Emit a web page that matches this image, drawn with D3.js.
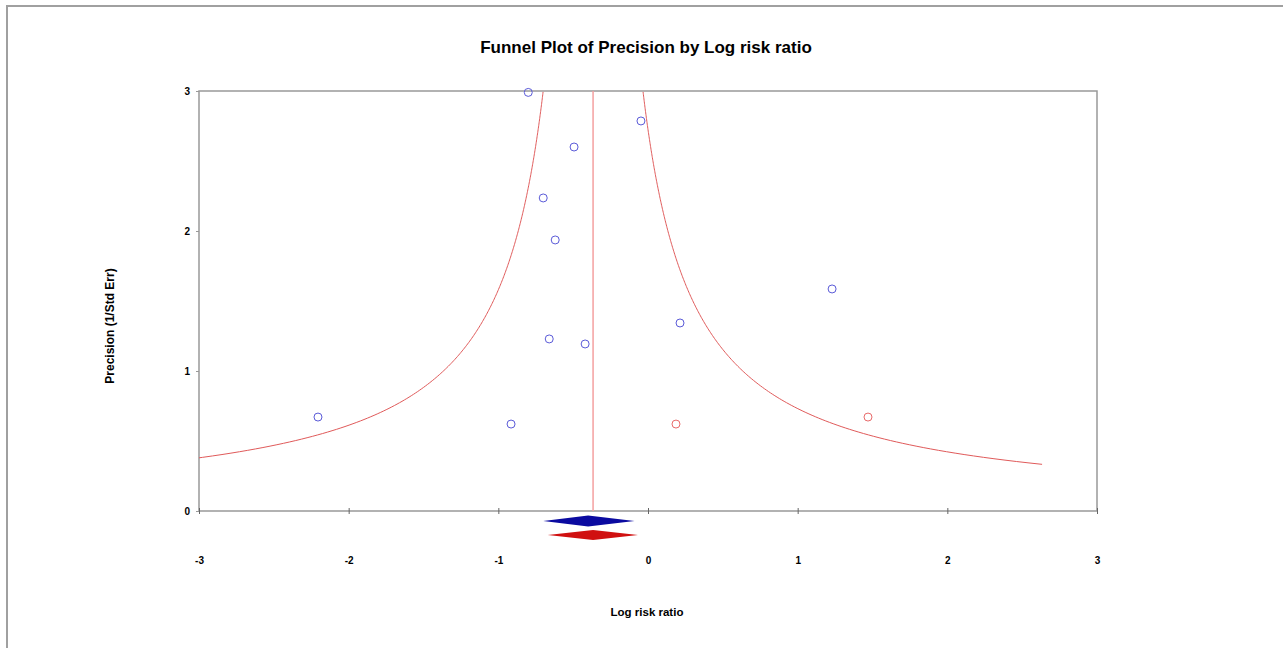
<!DOCTYPE html>
<html>
<head>
<meta charset="utf-8">
<script src="https://cdn.jsdelivr.net/npm/d3@7"></script>
<style>
  html, body { margin: 0; padding: 0; background: #fff; }
  svg { display: block; }
  text { font-family: Arial, "Liberation Sans", sans-serif; fill: #000; }
</style>
</head>
<body>
<svg width="1283" height="648"></svg>
<script>
// Data
const observedX = [-0.80, -0.047, -0.494, -0.70, -0.62, 1.23, 0.214, -0.66, -0.42, -2.205, -0.915];
const observedY = [2.99, 2.786, 2.60, 2.236, 1.936, 1.586, 1.343, 1.229, 1.193, 0.671, 0.621];
const imputedX = [0.187, 1.47];
const imputedY = [0.621, 0.671];
// summary diamonds: [low, mid, high]
const observedSummary = [-0.70, -0.40, -0.09];
const adjustedSummary = [-0.67, -0.367, -0.067];
const xTicks = [-3, -2, -1, 0, 1, 2, 3];
const yTicks = [0, 1, 2, 3];

const svg = d3.select("svg");

// outer frame of the original image
svg.append("path")
  .attr("d", "M7,648 V6 H1283")
  .attr("fill", "none")
  .attr("stroke", "#a0a0a0")
  .attr("stroke-width", 2);

const plotLeft = 199, plotRight = 1097, plotTop = 91, plotBottom = 511;
const x = d3.scaleLinear().domain([-3, 3]).range([plotLeft, plotRight]);
const y = d3.scaleLinear().domain([0, 3]).range([plotBottom, plotTop]);

// title
svg.append("text")
  .attr("x", 646).attr("y", 53)
  .attr("text-anchor", "middle")
  .attr("font-size", 17).attr("font-weight", "bold")
  .text("Funnel Plot of Precision by Log risk ratio");

// plot frame
svg.append("rect")
  .attr("x", plotLeft).attr("y", plotTop)
  .attr("width", plotRight - plotLeft).attr("height", plotBottom - plotTop)
  .attr("fill", "none").attr("stroke", "#999").attr("stroke-width", 1.5);

// axes
const xAxis = svg.append("g")
  .attr("transform", `translate(0,${plotBottom})`)
  .call(d3.axisBottom(x).tickValues(xTicks).tickSize(3).tickFormat(d => String(d)));
xAxis.select(".domain").remove();
xAxis.selectAll(".tick line").attr("stroke", "#666").attr("y1", -3);
xAxis.selectAll(".tick text")
  .attr("y", 46).attr("font-size", 10).attr("font-weight", "bold")
  .attr("font-family", "Arial, 'Liberation Sans', sans-serif");

const yAxis = svg.append("g")
  .attr("transform", `translate(${plotLeft},0)`)
  .call(d3.axisLeft(y).tickValues(yTicks).tickSize(3).tickFormat(d => String(d)));
yAxis.select(".domain").remove();
yAxis.selectAll(".tick line").attr("stroke", "#999");
yAxis.selectAll(".tick text")
  .attr("x", -9).attr("font-size", 10).attr("font-weight", "bold")
  .attr("font-family", "Arial, 'Liberation Sans', sans-serif");

// axis titles
svg.append("text")
  .attr("x", 647).attr("y", 616)
  .attr("text-anchor", "middle")
  .attr("font-size", 11.5).attr("font-weight", "bold")
  .text("Log risk ratio");
svg.append("text")
  .attr("transform", "translate(114,326) rotate(-90)")
  .attr("text-anchor", "middle")
  .attr("font-size", 12).attr("font-weight", "bold")
  .text("Precision (1/Std Err)");

// clip to plot area
svg.append("clipPath").attr("id", "plotClip")
  .append("rect").attr("x", plotLeft).attr("y", plotTop)
  .attr("width", plotRight - plotLeft).attr("height", plotBottom - plotTop);
const plot = svg.append("g").attr("clip-path", "url(#plotClip)");

// funnel: centre ± 1/precision, precision from 1/3 to 3
const centre = adjustedSummary[1];
const precisions = d3.range(1 / 3, 3.0001, 0.01);
const funnelLine = d3.line().x(d => x(d[0])).y(d => y(d[1]));
plot.append("path")
  .datum(precisions.map(p => [centre - 1 / p, p]))
  .attr("d", funnelLine)
  .attr("fill", "none").attr("stroke", "#e05a5a").attr("stroke-width", 1);
plot.append("path")
  .datum(precisions.map(p => [centre + 1 / p, p]))
  .attr("d", funnelLine)
  .attr("fill", "none").attr("stroke", "#e05a5a").attr("stroke-width", 1);

// vertical line at combined estimate
plot.append("line")
  .attr("x1", x(centre)).attr("x2", x(centre))
  .attr("y1", plotTop).attr("y2", plotBottom)
  .attr("stroke", "#f4a0a0").attr("stroke-width", 1.5);

// study points
svg.append("g").selectAll("circle")
  .data(d3.zip(observedX, observedY))
  .join("circle")
  .attr("cx", d => x(d[0])).attr("cy", d => y(d[1])).attr("r", 4)
  .attr("fill", "none").attr("stroke", "#5a5ad8").attr("stroke-width", 1);

svg.append("g").selectAll("circle")
  .data(d3.zip(imputedX, imputedY))
  .join("circle")
  .attr("cx", d => x(d[0])).attr("cy", d => y(d[1])).attr("r", 4)
  .attr("fill", "none").attr("stroke", "#e86a6a").attr("stroke-width", 1);

// summary diamonds
const diamond = (s, cy, h) =>
  `M${x(s[0])},${cy} L${x(s[1])},${cy - h} L${x(s[2])},${cy} L${x(s[1])},${cy + h} Z`;
svg.append("path").attr("d", diamond(observedSummary, 521, 5.5)).attr("fill", "#0a0aa0");
svg.append("path").attr("d", diamond(adjustedSummary, 535, 5)).attr("fill", "#d01010");
</script>
</body>
</html>
